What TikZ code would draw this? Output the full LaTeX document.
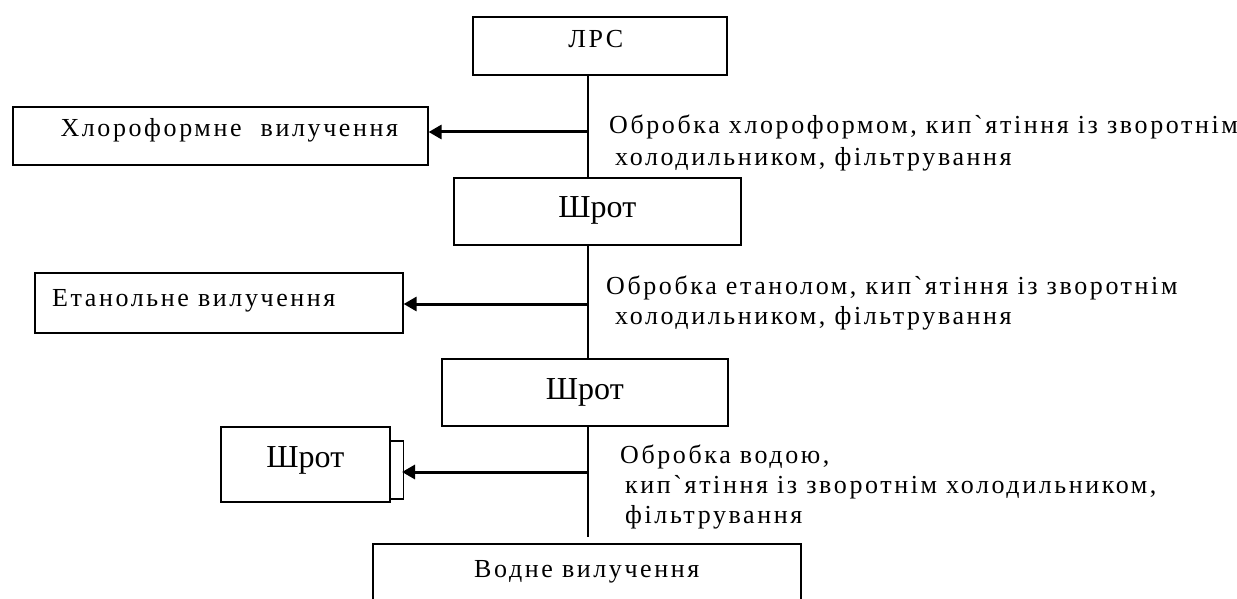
\documentclass[tikz,border=0pt]{standalone}
\usepackage{fontspec}
\setmainfont{Liberation Serif}
\newfontfamily\spaced[LetterSpace=10]{Liberation Serif}
\usetikzlibrary{arrows.meta}
\begin{document}
\begin{tikzpicture}[x=1pt,y=-1pt,
  box/.style={draw=black, line width=1.6pt, inner xsep=0pt, inner ysep=0pt, anchor=north west},
  small/.style={font=\spaced\fontsize{26}{30}\selectfont},
  big/.style={font=\fontsize{32}{36}\selectfont},
  side/.style={small, anchor=base west, inner sep=0pt},
  spine/.style={line width=1.6pt, draw=black},
  arr/.style={line width=3pt, -{Triangle[length=13pt,width=14pt]}},
  bracketline/.style={line width=1.3pt}]
\useasboundingbox (0,0) rectangle (1237,599);
\clip (0,0) rectangle (1237,599);

% boxes
\node[box, small, minimum width=254pt, text height=31pt, text depth=27pt] (lrs) at (472,16) {ЛРС\hspace{8pt}\mbox{}};
\node[box, small, minimum width=415pt, text height=30pt, text depth=28pt] (chl) at (12,106) {\hspace{18pt}Хлороформне\hspace{10pt} вилучення};
\node[box, big, minimum width=287pt, text height=40pt, text depth=27pt] (sh1) at (453,177) {Шрот};
\node[box, small, minimum width=368pt, text height=34pt, text depth=26pt] (eth) at (34,272) {Етанольне вилучення\hspace{50pt}\mbox{}};
\node[box, big, minimum width=286pt, text height=41pt, text depth=26pt] (sh2) at (441,358) {Шрот};
\node[box, big, minimum width=169pt, text height=41pt, text depth=34pt] (shl) at (220,426) {Шрот};
\node[box, small, minimum width=428pt, text height=34pt, text depth=45pt] (wat) at (372,543) {Водне вилучення};

% side texts
\node[side] (t1a) at (609,134) {Обробка хлороформом, кип`ятіння із зворотнім};
\node[side] (t1b) at (615,165) {холодильником, фільтрування};
\node[side] (t2a) at (606,294) {Обробка етанолом, кип`ятіння із зворотнім};
\node[side] (t2b) at (615,324) {холодильником, фільтрування};
\node[side] (t3a) at (620,463) {Обробка водою,};
\node[side] (t3b) at (625,493) {кип`ятіння із зворотнім холодильником,};
\node[side] (t3c) at (625,523) {фільтрування};

% spine
\coordinate (sp) at (588,0);
\coordinate (spend) at (588,537);
\draw[spine] (lrs.south -| sp) -- (sh1.north -| sp);
\draw[spine] (sh1.south -| sp) -- (sh2.north -| sp);
\draw[spine] (sh2.south -| sp) -- (spend);

% arrows
\coordinate (j1) at (588,132);
\coordinate (j2) at (588,304);
\coordinate (j3) at (588,472);
\coordinate (brk) at (402,472);
\draw[arr] (j1) -- (j1 -| chl.east);
\draw[arr] (j2) -- (j2 -| eth.east);
\draw[arr] (j3) -- (brk);

% bracket beside left Шрот box
\draw[bracketline] ([yshift=-15pt]shl.north east) -- ++(13,0) -- ++(0,58) -- ++(-13,0);
\end{tikzpicture}
\end{document}
